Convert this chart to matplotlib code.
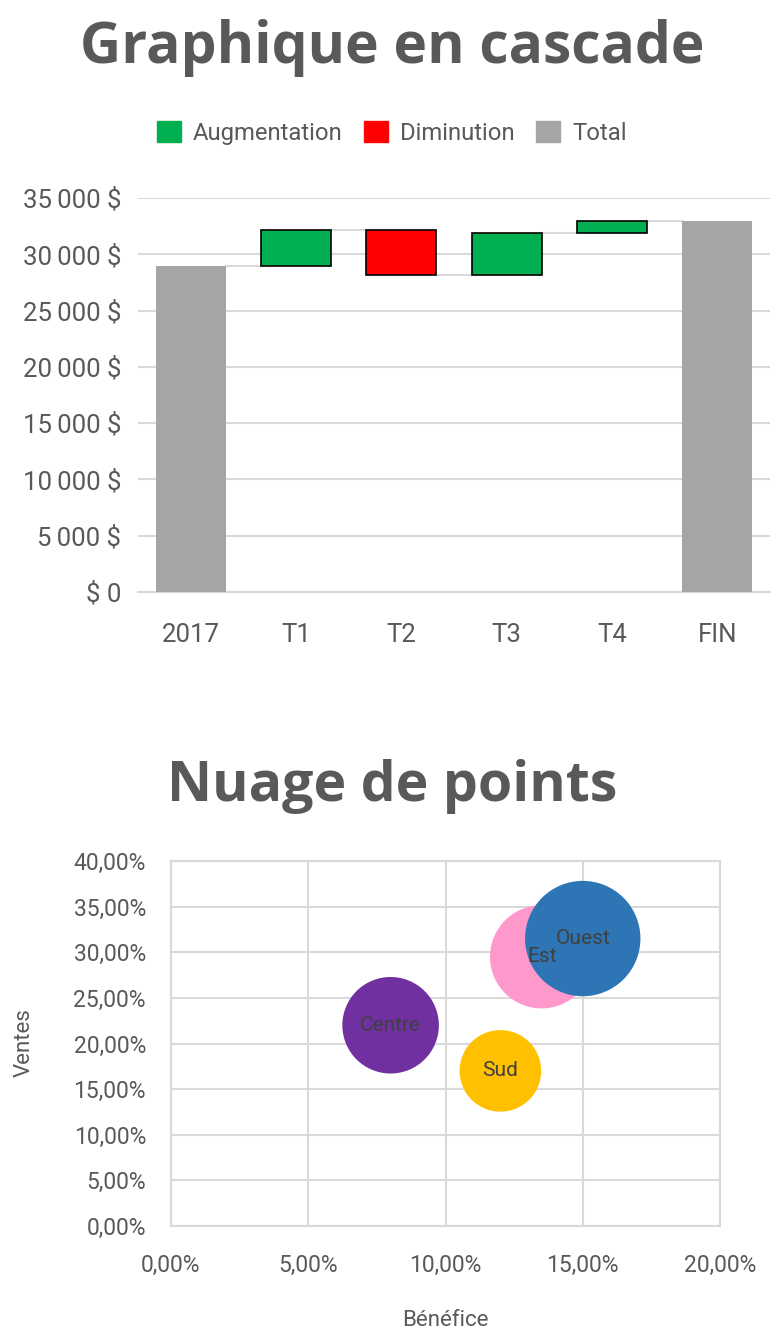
import numpy as np
import matplotlib
matplotlib.use('Agg')
import matplotlib.pyplot as plt
from matplotlib.patches import Patch
from matplotlib.ticker import FuncFormatter

# --- waterfall data ---
wf_cats   = ['2017', 'T1', 'T2', 'T3', 'T4', 'FIN']
wf_start  = 29000
wf_deltas = [3200, -4000, 3700, 1100]          # T1..T4
wf_end    = 33000

# --- bubble data ---
bub_names  = ['Centre', 'Sud', 'Est', 'Ouest']
bub_profit = [0.080, 0.120, 0.135, 0.150]
bub_sales  = [0.220, 0.170, 0.295, 0.315]
bub_size   = [7, 5, 8, 10]
bub_colors = ['#7030A0', '#FFC000', '#FF99CC', '#2E75B6']

TXT   = '#595959'
GRID  = '#D9D9D9'
GREEN, RED, GREY = '#00B050', '#FF0000', '#A5A5A5'
TICKF = 'Roboto'
TITLEF = 'Open Sans'

fig = plt.figure(figsize=(7.84, 13.37), dpi=100)

# ── waterfall ────────────────────────────────────────────────────────────────
ax = fig.add_axes([138/784, 1-592/1337, 632/784, 394/1337])
x = np.arange(len(wf_cats))
bw = 0.665

ax.bar(x[0], wf_start, width=bw, color=GREY, zorder=3)
ax.bar(x[-1], wf_end, width=bw, color=GREY, zorder=3)
level = wf_start
levels = [wf_start]
for i, d in enumerate(wf_deltas, start=1):
    bottom = level if d > 0 else level + d
    ax.bar(x[i], abs(d), bottom=bottom, width=bw,
           color=GREEN if d > 0 else RED, edgecolor='black', lw=1.2, zorder=3)
    level += d
    levels.append(level)
# connectors between consecutive bars at the running total
for i in range(len(wf_cats) - 1):
    ax.plot([x[i] + bw/2, x[i+1] - bw/2], [levels[i], levels[i]],
            color=GRID, lw=1.5, zorder=2)

ax.set_xlim(-0.5, 5.5)
ax.set_ylim(0, 35000)
ax.set_yticks(np.arange(0, 35001, 5000))
ax.yaxis.set_major_formatter(FuncFormatter(
    lambda v, p: '$ 0' if v == 0 else f'{int(v):,} $'.replace(',', '\u202f')))
ax.set_xticks(x)
ax.set_xticklabels(wf_cats)
ax.grid(axis='y', color=GRID, lw=1.5, zorder=0)
for s in ['top', 'right', 'left']:
    ax.spines[s].set_visible(False)
ax.spines['bottom'].set_color(GRID)
ax.spines['bottom'].set_linewidth(1.5)
ax.tick_params(length=0, labelsize=18.5, colors=TXT, pad=12)
ax.tick_params(axis='x', pad=22)
for lab in ax.get_xticklabels() + ax.get_yticklabels():
    lab.set_family([TICKF, 'DejaVu Sans'])

fig.text(0.5, 1-48/1337, 'Graphique en cascade', ha='center', va='center',
         fontsize=41, fontweight='bold', color=TXT, family=TITLEF)
handles = [Patch(color=GREEN, label='Augmentation'),
           Patch(color=RED, label='Diminution'),
           Patch(color=GREY, label='Total')]
fig.legend(handles=handles, loc='center', bbox_to_anchor=(0.5, 1-133/1337),
           ncol=3, frameon=False, handlelength=1.0, handleheight=1.0,
           handletextpad=0.5, columnspacing=0.9,
           prop={'family': TICKF, 'size': 17.2}, labelcolor=TXT)

# ── bubble ───────────────────────────────────────────────────────────────────
bx = fig.add_axes([171/784, 1-1226/1337, 549/784, 365/1337])
bx.scatter(bub_profit, bub_sales, s=np.array(bub_size) * 690,
           c=bub_colors, zorder=3, edgecolors='none')
for n, px, py in zip(bub_names, bub_profit, bub_sales):
    bx.text(px, py, n, ha='center', va='center', fontsize=15,
            color='#404040', family=TICKF, zorder=4)
bx.set_xlim(0, 0.20)
bx.set_ylim(0, 0.40)
bx.set_xticks(np.arange(0, 0.2001, 0.05))
bx.set_yticks(np.arange(0, 0.4001, 0.05))
pct = FuncFormatter(lambda v, p: f'{v*100:.2f}%'.replace('.', ','))
bx.xaxis.set_major_formatter(pct)
bx.yaxis.set_major_formatter(pct)
bx.grid(True, color=GRID, lw=1.5, zorder=0)
for s in bx.spines.values():
    s.set_color(GRID)
    s.set_linewidth(1.5)
bx.tick_params(length=0, labelsize=16.5, colors=TXT)
bx.tick_params(axis='x', pad=20)
bx.tick_params(axis='y', pad=18)
for lab in bx.get_xticklabels() + bx.get_yticklabels():
    lab.set_family(TICKF)

fig.text(445/784, 1-1320/1337, 'Bénéfice', ha='center', va='center',
         fontsize=16, color=TXT, family=TICKF)
fig.text(24/784, 1-1043/1337, 'Ventes', ha='center', va='center',
         rotation=90, fontsize=16, color=TXT, family=TICKF)

fig.text(0.5, 1-787/1337, 'Nuage de points', ha='center', va='center',
         fontsize=40, fontweight='bold', color=TXT, family=TITLEF)

fig.savefig('out.png', dpi=100)
